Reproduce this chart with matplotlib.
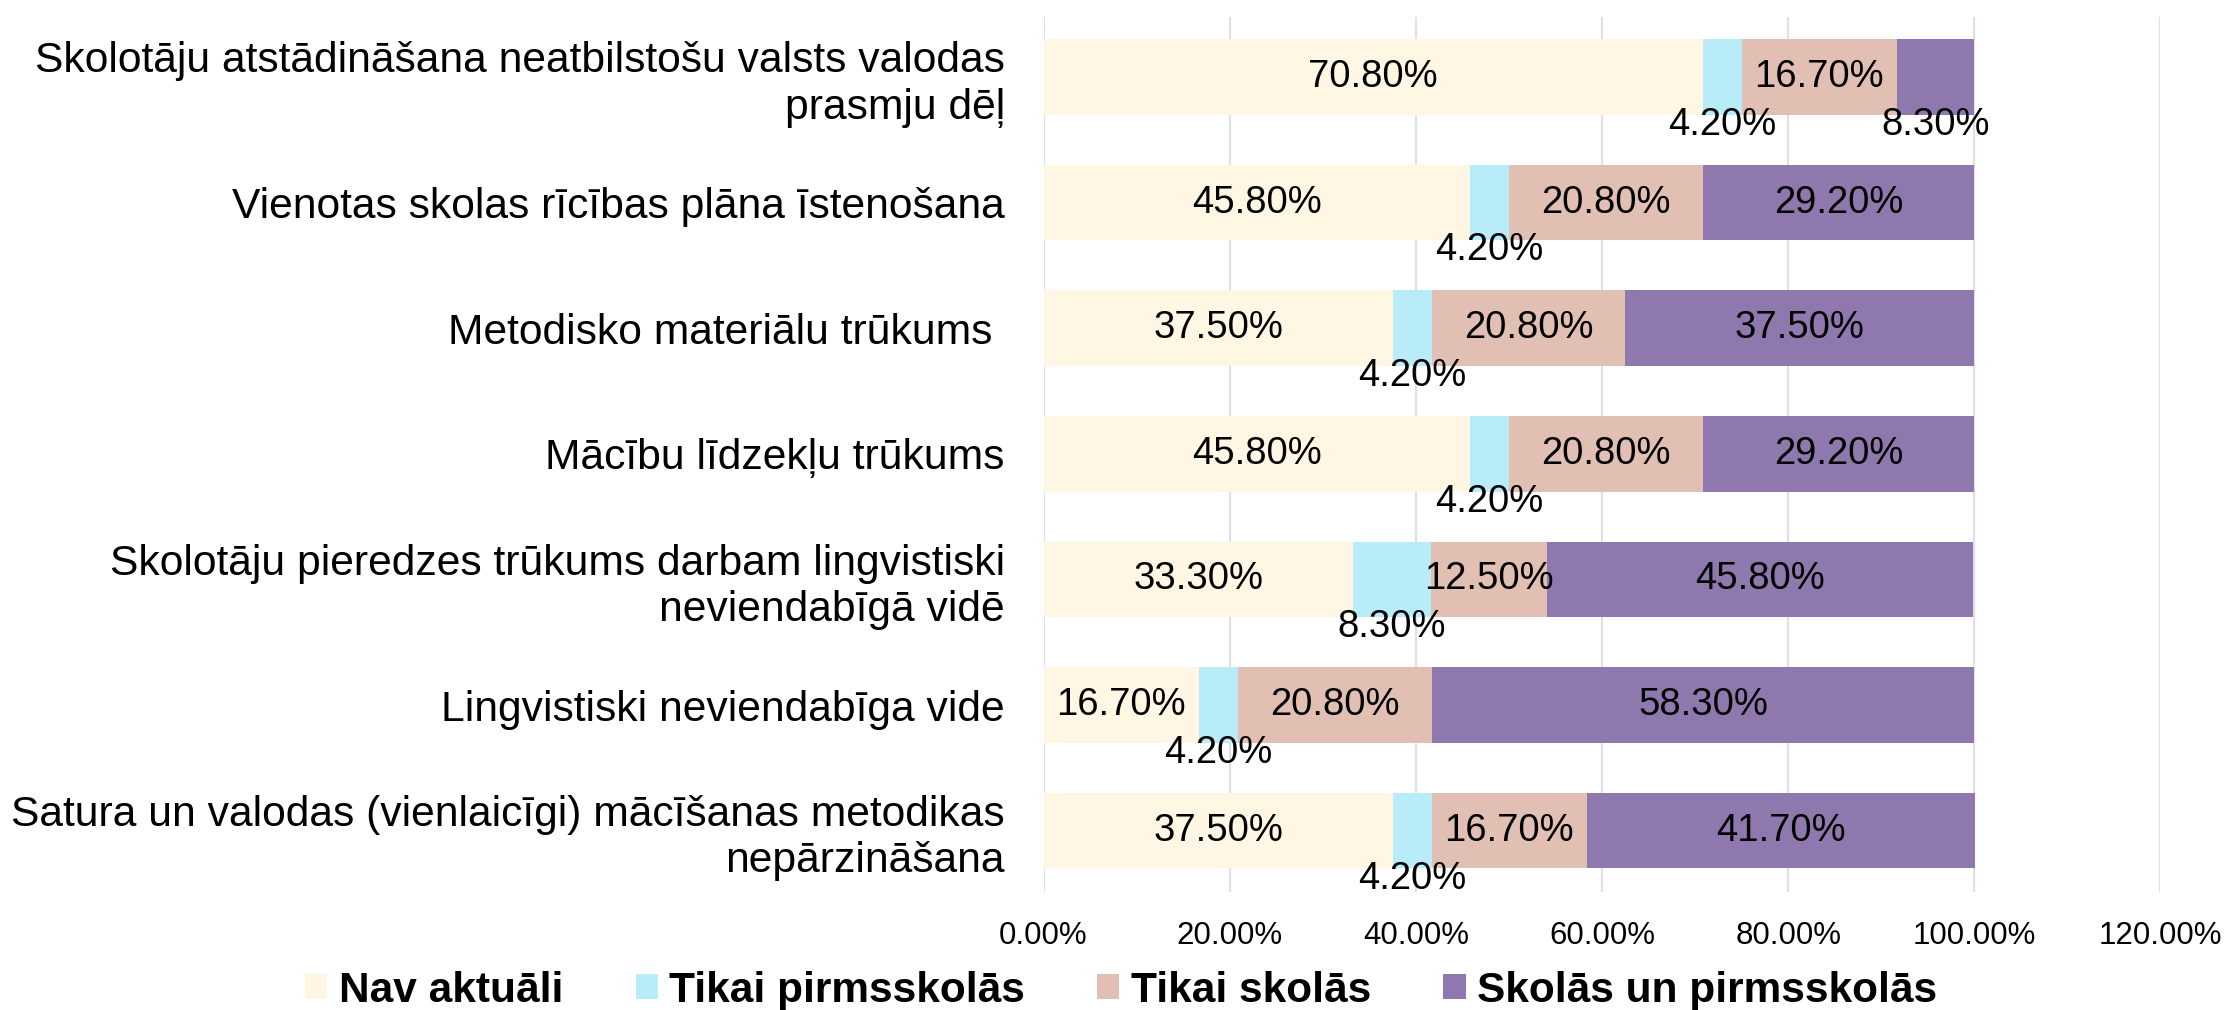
import matplotlib
matplotlib.use('Agg')
import matplotlib.pyplot as plt
import numpy as np

plt.rcParams['font.family'] = ['Liberation Sans', 'DejaVu Sans']

# Survey categories (top to bottom)
categories = [
    'Skolotāju atstādināšana neatbilstošu valsts valodas\nprasmju dēļ',
    'Vienotas skolas rīcības plāna īstenošana',
    'Metodisko materiālu trūkums ',
    'Mācību līdzekļu trūkums',
    'Skolotāju pieredzes trūkums darbam lingvistiski\nneviendabīgā vidē',
    'Lingvistiski neviendabīga vide',
    'Satura un valodas (vienlaicīgi) mācīšanas metodikas\nnepārzināšana',
]

series_names = ['Nav aktuāli', 'Tikai pirmsskolās', 'Tikai skolās', 'Skolās un pirmsskolās']
nav_aktuali = [70.8, 45.8, 37.5, 45.8, 33.3, 16.7, 37.5]
tikai_pirmsskolas = [4.2, 4.2, 4.2, 4.2, 8.3, 4.2, 4.2]
tikai_skolas = [16.7, 20.8, 20.8, 20.8, 12.5, 20.8, 16.7]
skolas_un_pirmsskolas = [8.3, 29.2, 37.5, 29.2, 45.8, 58.3, 41.7]

colors = ['#FFF6E4', '#B8ECF9', '#E1C0B3', '#8F78AE']
xticks = [0, 20, 40, 60, 80, 100, 120]

fig = plt.figure(figsize=(22.25, 10.1), dpi=100)
ax = fig.add_axes([0.469, 0.117, 0.502, 0.866])

y = np.arange(len(categories))
left = np.zeros(len(categories))
for name, vals, col in zip(series_names,
                           [nav_aktuali, tikai_pirmsskolas, tikai_skolas, skolas_un_pirmsskolas],
                           colors):
    vals = np.array(vals)
    ax.barh(y, vals, left=left, height=0.6, color=col, label=name, zorder=2)
    for yi, l, v in zip(y, left, vals):
        cx = l + v / 2
        if v < 10:
            # small segments get their label below the bar
            ax.text(cx, yi + 0.38, f'{v:.2f}%', ha='center', va='center', fontsize=27.5, zorder=3)
        else:
            ax.text(cx, yi, f'{v:.2f}%', ha='center', va='center', fontsize=27.5, zorder=3)
    left = left + vals

ax.set_xlim(0, 120)
ax.set_ylim(6.486, -0.475)
ax.set_xticks(xticks)
ax.set_xticklabels([f'{t:.2f}%' for t in xticks], fontsize=22.5)
ax.set_yticks(y)
ax.set_yticklabels(categories, fontsize=30.7)
ax.tick_params(axis='both', length=0)
ax.tick_params(axis='y', pad=28)
ax.tick_params(axis='x', pad=21)
ax.grid(axis='x', color='#E1DDEC', linewidth=1.5, zorder=0)
for s in ax.spines.values():
    s.set_visible(False)

fig.legend(loc='center', bbox_to_anchor=(0.504, 0.019), ncol=4, frameon=False,
           prop={'weight': 'bold', 'size': 30.5}, handlelength=0.52, handleheight=0.52,
           handletextpad=0.28, columnspacing=1.7, borderpad=0)

fig.savefig('out.png', dpi=100)
